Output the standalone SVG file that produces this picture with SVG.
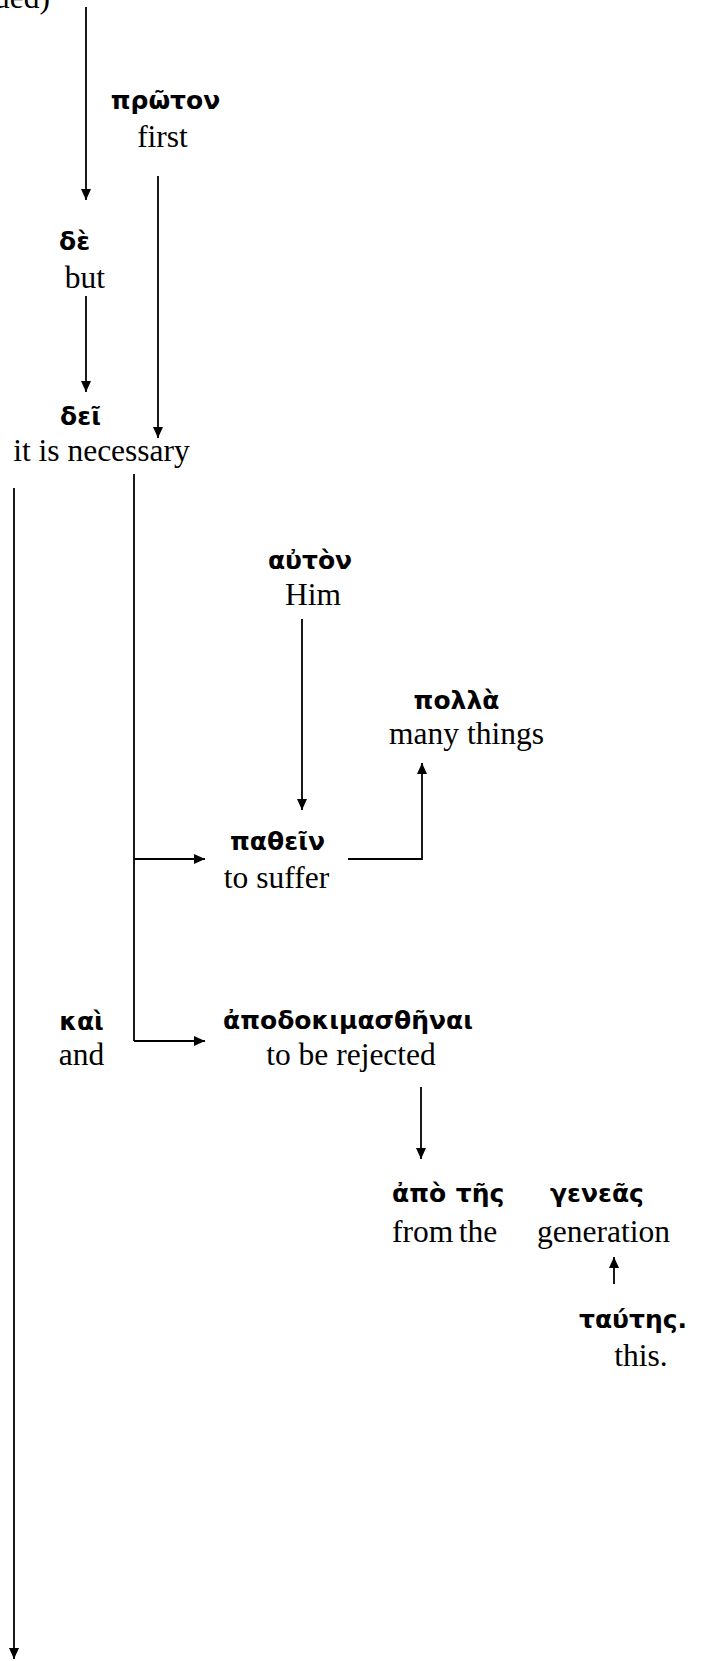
<svg xmlns="http://www.w3.org/2000/svg" width="710" height="1661" viewBox="0 0 710 1661">
<style>
.gr{font-family:"DejaVu Sans",sans-serif;font-weight:bold;font-size:25px;fill:#000;text-anchor:middle}
.en{font-family:"Liberation Serif",serif;font-size:31.5px;fill:#000;text-anchor:middle}
.ln{fill:none;stroke:#000;stroke-width:1.8}
.arr{marker-end:url(#ah)}
</style>
<defs>
<marker id="ah" markerUnits="userSpaceOnUse" markerWidth="11" markerHeight="10" refX="11" refY="5" orient="auto">
<path d="M0,0 L11,5 L0,10 z" fill="#000"/>
</marker>
</defs>
<rect width="710" height="1661" fill="#fff"/>
<g id="cont"><text class="en" x="50" y="8" style="text-anchor:end">ued)</text></g>
<g id="proton"><text class="gr" x="165.5" y="109">πρῶτον</text><text class="en" x="162.5" y="147">first</text></g>
<g id="de"><text class="gr" x="74.5" y="250">δὲ</text><text class="en" x="85" y="288">but</text></g>
<g id="dei"><text class="gr" x="80.5" y="425">δεῖ</text><text class="en" x="101.5" y="461">it is necessary</text></g>
<g id="auton"><text class="gr" x="310" y="569">αὐτὸν</text><text class="en" x="313" y="605">Him</text></g>
<g id="polla"><text class="gr" x="456.5" y="709">πολλὰ</text><text class="en" x="466.5" y="744">many things</text></g>
<g id="pathein"><text class="gr" x="277.5" y="850">παθεῖν</text><text class="en" x="276.5" y="888">to suffer</text></g>
<g id="kai"><text class="gr" x="81.5" y="1030">καὶ</text><text class="en" x="81.5" y="1065">and</text></g>
<g id="apodok"><text class="gr" x="348" y="1029">ἀποδοκιμασθῆναι</text><text class="en" x="351" y="1065">to be rejected</text></g>
<g id="apo"><text class="gr" x="392" y="1202" style="text-anchor:start">ἀπὸ</text><text class="gr" x="480" y="1202">τῆς</text><text class="gr" x="597" y="1202">γενεᾶς</text>
<text class="en" x="392" y="1242" style="text-anchor:start">from</text><text class="en" x="478" y="1242">the</text><text class="en" x="603.5" y="1242">generation</text></g>
<g id="tautes"><text class="gr" x="633" y="1328">ταύτης.</text><text class="en" x="641" y="1366">this.</text></g>
<g id="connectors">
<path class="ln arr" d="M86,7 V200"/>
<path class="ln arr" d="M158,176 V438"/>
<path class="ln arr" d="M86,296 V392"/>
<path class="ln arr" d="M14,488 V1659"/>
<path class="ln" d="M134,474 V1041"/>
<path class="ln arr" d="M134,859 H205"/>
<path class="ln arr" d="M134,1041 H205"/>
<path class="ln arr" d="M302,619 V810"/>
<path class="ln arr" d="M348,859 H422 V763"/>
<path class="ln arr" d="M421,1087 V1159"/>
<path class="ln arr" d="M614,1284 V1257"/>
</g>
</svg>
